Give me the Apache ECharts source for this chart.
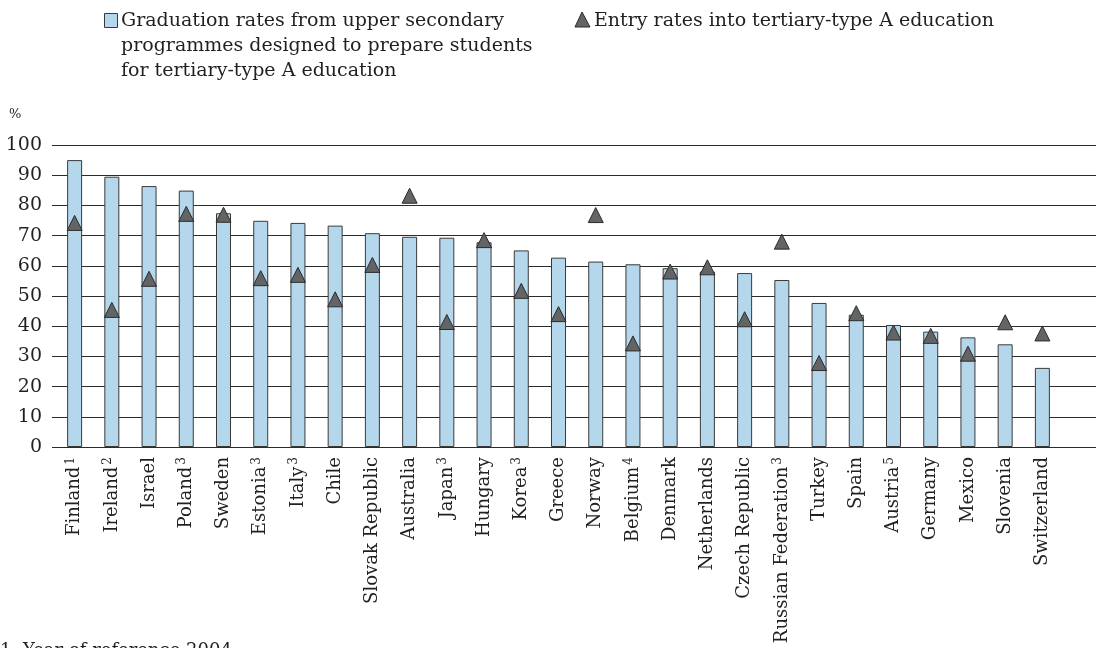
<!DOCTYPE html>
<html>
<head>
<meta charset="utf-8">
<script src="https://cdn.jsdelivr.net/npm/echarts@6/dist/echarts.min.js"></script>
<style>
  html, body { margin: 0; padding: 0; background: #fff; }
  #chart { width: 1096px; height: 648px; }
</style>
</head>
<body>
<div id="chart"></div>
<script>
  // countries, footnote numbers, and the two series
  var countries = ['Finland', 'Ireland', 'Israel', 'Poland', 'Sweden', 'Estonia', 'Italy', 'Chile',
    'Slovak Republic', 'Australia', 'Japan', 'Hungary', 'Korea', 'Greece', 'Norway', 'Belgium',
    'Denmark', 'Netherlands', 'Czech Republic', 'Russian Federation', 'Turkey', 'Spain', 'Austria',
    'Germany', 'Mexico', 'Slovenia', 'Switzerland'];
  var notes = ['1', '2', '', '3', '', '3', '3', '', '', '', '3', '', '3', '', '', '4',
    '', '', '', '3', '', '', '5', '', '', '', ''];
  var graduationRates = [95, 89.5, 86.4, 84.9, 77.4, 74.9, 74.2, 73.3, 70.8, 69.6, 69.3, 67.8, 65.1,
    62.7, 61.4, 60.5, 59.2, 58.1, 57.6, 55.3, 47.7, 43.8, 40.4, 38.2, 36.3, 34.0, 26.2];
  var entryRates = [74.2, 45.4, 55.7, 77.2, 76.9, 55.9, 57.0, 48.9, 60.3, 83.2, 41.4, 68.5, 51.7,
    44.0, 76.8, 34.3, 58.1, 59.5, 42.3, 68.0, 27.8, 44.3, 37.9, 36.8, 30.9, 41.3, 37.6];
  var yTicks = { min: 0, max: 100, interval: 10 };

  var font = 'DejaVu Serif';
  var fs = 19;
  var textColor = '#231f20';
  var barFill = '#b4d7ec';
  var triFill = '#636466';

  var chart = echarts.init(document.getElementById('chart'));
  chart.setOption({
    animation: false,
    backgroundColor: '#fff',
    textStyle: { fontFamily: font, color: textColor },
    grid: [
      { left: 56, right: 35, top: 145, bottom: 201, outerBoundsMode: 'none' },
      { left: 52, right: 0, top: 145, bottom: 201, outerBoundsMode: 'none' }
    ],
    xAxis: [
      {
        type: 'category',
        gridIndex: 0,
        data: countries,
        axisLine: { show: false },
        axisTick: { show: false },
        axisLabel: {
          rotate: 90,
          interval: 0,
          margin: 10,
          fontFamily: font,
          color: textColor,
          formatter: function (v, i) {
            return notes[i] ? '{n|' + v + '}{s|' + notes[i] + '}' : '{n|' + v + '}';
          },
          rich: {
            n: { fontSize: 18, fontFamily: font, color: textColor, lineHeight: 20 },
            s: { fontSize: 12, fontFamily: font, color: textColor, verticalAlign: 'top', padding: [0, 0, 0, 2] }
          }
        }
      },
      { type: 'value', gridIndex: 1, show: false, min: 0, max: 1 }
    ],
    yAxis: [
      {
        type: 'value',
        gridIndex: 0,
        min: yTicks.min,
        max: yTicks.max,
        interval: yTicks.interval,
        axisLine: { show: false },
        axisTick: { show: false },
        splitLine: { show: false },
        axisLabel: { fontSize: fs, fontFamily: font, color: textColor, margin: 14 }
      },
      {
        type: 'value',
        gridIndex: 1,
        min: yTicks.min,
        max: yTicks.max,
        interval: yTicks.interval,
        axisLine: { show: false },
        axisTick: { show: false },
        axisLabel: { show: false },
        splitLine: { show: true, lineStyle: { color: '#2b2b2b', width: 1 } }
      }
    ],
    series: [
      {
        name: 'Graduation rates from upper secondary programmes designed to prepare students for tertiary-type A education',
        type: 'bar',
        xAxisIndex: 0,
        yAxisIndex: 0,
        barWidth: 15,
        data: graduationRates,
        itemStyle: { color: barFill, borderColor: '#3a3a3a', borderWidth: 1 },
        z: 3
      },
      {
        name: 'Entry rates into tertiary-type A education',
        type: 'scatter',
        xAxisIndex: 0,
        yAxisIndex: 0,
        symbol: 'triangle',
        symbolSize: [15, 15],
        data: entryRates,
        itemStyle: { color: triFill, borderColor: '#2b2b2b', borderWidth: 1, opacity: 1 },
        z: 4
      }
    ],
    graphic: [
      { type: 'rect', left: 104, top: 13, shape: { width: 13, height: 14 },
        style: { fill: barFill, stroke: '#3a3a3a', lineWidth: 1 } },
      { type: 'text', left: 121, top: 9,
        style: { text: 'Graduation rates from upper secondary\nprogrammes designed to prepare students\nfor tertiary-type A education',
          font: fs + 'px "' + font + '"', fill: textColor, lineHeight: 25 } },
      { type: 'polygon', shape: { points: [[582, 12], [575, 27], [590, 27]] },
        style: { fill: triFill, stroke: '#2b2b2b', lineWidth: 1 } },
      { type: 'text', left: 594, top: 9,
        style: { text: 'Entry rates into tertiary-type A education',
          font: fs + 'px "' + font + '"', fill: textColor, lineHeight: 25 } },
      { type: 'text', left: 9, top: 108,
        style: { text: '%', font: '13px "' + font + '"', fill: textColor } },
      { type: 'text', left: 0, top: 642,
        style: { text: '1. Year of reference 2004.', font: '18px "' + font + '"', fill: textColor } }
    ]
  });
</script>
</body>
</html>
